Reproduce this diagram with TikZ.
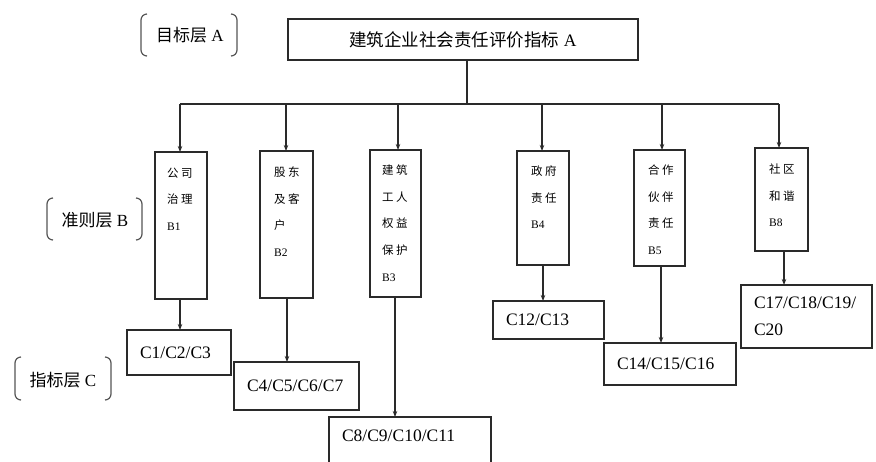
\documentclass[tikz,border=0pt]{standalone}
\usepackage{fontspec}
\setmainfont{Liberation Serif}
\newfontfamily\cjk{Noto Sans CJK SC}
\newcommand\zh[1]{{\cjk #1}}
\usetikzlibrary{arrows.meta}
\definecolor{linec}{HTML}{2a2a2a}
\definecolor{brk}{HTML}{555555}
\begin{document}
\begin{tikzpicture}[x=1pt,y=-1pt,
  box/.style={draw=linec, line width=1.25pt, inner sep=0pt, outer sep=0pt},
  conn/.style={draw=linec, line width=1.05pt},
  arr/.style={conn, -{Stealth[length=6pt,width=4.5pt]}},
  btext/.style={font=\fontsize{11.5}{26.8}\selectfont, align=left, inner sep=0pt, anchor=north west},
  cbox/.style={box, font=\fontsize{17.5}{27}\selectfont, align=left, inner xsep=13pt},
  lab/.style={font=\fontsize{17}{20}\selectfont, inner sep=0pt},
  bracket/.style={draw=brk, line width=1.2pt}
]
\clip (0,0) rectangle (876,462);
\fill[white] (0,0) rectangle (876,462);

% top node
\node[box, minimum width=350pt, minimum height=41pt, font=\fontsize{17.5}{20}\selectfont] (A) at (463,39.5) {\zh{建筑企业社会责任评价指标} A};

% level labels
\node[lab] (la) at (190,35) {\zh{目标层} A};
\node[lab] (lb) at (95,220) {\zh{准则层} B};
\node[lab] (lc) at (63,380) {\zh{指标层} C};
% brackets
\draw[bracket] (147,14) to[out=180,in=90] (141,20) -- (141,50) to[out=-90,in=180] (147,56);
\draw[bracket] (231,14) to[out=0,in=90] (237,20) -- (237,50) to[out=-90,in=0] (231,56);
\draw[bracket] (53,198) to[out=180,in=90] (47,204) -- (47,234) to[out=-90,in=180] (53,240);
\draw[bracket] (136,198) to[out=0,in=90] (142,204) -- (142,234) to[out=-90,in=0] (136,240);
\draw[bracket] (21,357) to[out=180,in=90] (15,363) -- (15,394) to[out=-90,in=180] (21,400);
\draw[bracket] (105,357) to[out=0,in=90] (111,363) -- (111,394) to[out=-90,in=0] (105,400);

% B boxes
\node[box, minimum width=52pt, minimum height=147pt] (b1) at (181,225.5) {};
\node[box, minimum width=53pt, minimum height=147pt] (b2) at (286.5,224.5) {};
\node[box, minimum width=51pt, minimum height=147pt] (b3) at (395.5,223.5) {};
\node[box, minimum width=52pt, minimum height=114pt] (b4) at (543,208) {};
\node[box, minimum width=51pt, minimum height=116pt] (b5) at (659.5,208) {};
\node[box, minimum width=53pt, minimum height=103pt] (b8) at (781.5,199.5) {};

\node[btext] (t1) at ([xshift=12pt,yshift=-15.4pt]b1.north west) {\zh{公\kern2.5pt 司}\\\zh{治\kern2.5pt 理}\\B1};
\node[btext] (t2) at ([xshift=14pt,yshift=-15.4pt]b2.north west) {\zh{股\kern2.5pt 东}\\\zh{及\kern2.5pt 客}\\\zh{户}\\B2};
\node[btext] (t3) at ([xshift=12pt,yshift=-14.4pt]b3.north west) {\zh{建\kern2.5pt 筑}\\\zh{工\kern2.5pt 人}\\\zh{权\kern2.5pt 益}\\\zh{保\kern2.5pt 护}\\B3};
\node[btext] (t4) at ([xshift=14pt,yshift=-14.4pt]b4.north west) {\zh{政\kern2.5pt 府}\\\zh{责\kern2.5pt 任}\\B4};
\node[btext] (t5) at ([xshift=14pt,yshift=-14.4pt]b5.north west) {\zh{合\kern2.5pt 作}\\\zh{伙\kern2.5pt 伴}\\\zh{责\kern2.5pt 任}\\B5};
\node[btext] (t8) at ([xshift=14pt,yshift=-15.4pt]b8.north west) {\zh{社\kern2.5pt 区}\\\zh{和\kern2.5pt 谐}\\B8};

% C boxes
\node[cbox, text width=78pt, minimum height=45pt] (c1) at (179,352.5) {C1/C2/C3};
\node[cbox, text width=99pt, minimum height=48pt] (c2) at (296.5,386) {C4/C5/C6/C7};
\node[cbox, text width=136pt, minimum height=51pt, text depth=14pt] (c3) at (410,442.5) {C8/C9/C10/C11};
\node[cbox, text width=85pt, minimum height=38pt] (c4) at (548.5,320) {C12/C13};
\node[cbox, text width=106pt, minimum height=42pt] (c5) at (670,364) {C14/C15/C16};
\node[cbox, text width=105pt, minimum height=63pt] (c6) at (806.5,316.5) {C17/C18/C19/\\C20};

% bus
\coordinate (bus) at (467,104);
\coordinate (d1) at (180,104);
\coordinate (d2) at (286,104);
\coordinate (d3) at (398,104);
\coordinate (d4) at (542,104);
\coordinate (d5) at (662,104);
\coordinate (d6) at (779,104);
\draw[conn] (A.south -| bus) -- (bus);
\draw[conn] (d1) -- (d6);
\draw[arr] (d1) -- (d1 |- b1.north);
\draw[arr] (d2) -- (d2 |- b2.north);
\draw[arr] (d3) -- (d3 |- b3.north);
\draw[arr] (d4) -- (d4 |- b4.north);
\draw[arr] (d5) -- (d5 |- b5.north);
\draw[arr] (d6) -- (d6 |- b8.north);

% B to C
\draw[arr] ([xshift=-1pt]b1.south) -- ([xshift=-1pt]b1.south |- c1.north);
\draw[arr] ([xshift=0.5pt]b2.south) -- ([xshift=0.5pt]b2.south |- c2.north);
\draw[arr] ([xshift=-0.5pt]b3.south) -- ([xshift=-0.5pt]b3.south |- c3.north);
\draw[arr] (b4.south) -- (b4.south |- c4.north);
\draw[arr] ([xshift=1.5pt]b5.south) -- ([xshift=1.5pt]b5.south |- c5.north);
\draw[arr] ([xshift=2.5pt]b8.south) -- ([xshift=2.5pt]b8.south |- c6.north);
\end{tikzpicture}
\end{document}
